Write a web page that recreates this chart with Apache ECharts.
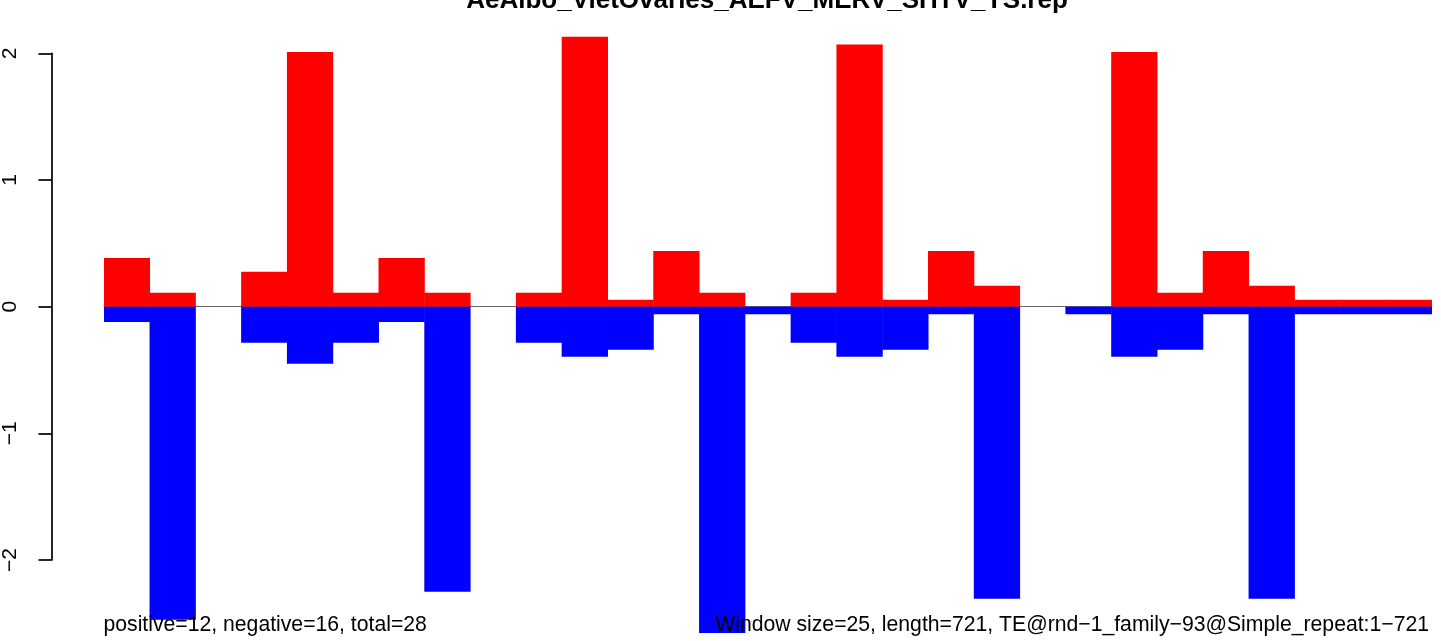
<!DOCTYPE html>
<html><head><meta charset="utf-8">
<script src="https://cdn.jsdelivr.net/npm/echarts@6/dist/echarts.min.js"></script>
<style>html,body{margin:0;padding:0;background:#fff}#c{width:1441px;height:641px}</style>
</head><body><div id="c"></div>
<script>
// Window start positions (bp), window size 25
const windowStarts = [0,25,50,75,100,125,150,175,200,225,250,275,300,325,350,375,400,425,450,475,500,525,550,575,600,625,650,675,700];
const positiveValues = [0.385,0.11,0,0.275,2.01,0.11,0.385,0.11,0,0.11,2.13,0.055,0.44,0.11,0,0.11,2.07,0.055,0.44,0.165,0,0,2.01,0.11,0.44,0.165,0.055,0.055,0.055];
const negativeValues = [-0.12,-2.47,0,-0.285,-0.45,-0.285,-0.12,-2.25,0,-0.285,-0.395,-0.34,-0.06,-2.575,-0.06,-0.285,-0.395,-0.34,-0.06,-2.305,0,-0.06,-0.395,-0.34,-0.06,-2.305,-0.06,-0.06,-0.06];
const yTicks = [-2,-1,0,1,2];
const titleText = 'AeAlbo_VietOvaries_AEFV_MERV_SHTV_YS.rep';
const leftNote = 'positive=12, negative=16, total=28';
const rightNote = 'Window size=25, length=721, TE@rnd\u22121_family\u221293@Simple_repeat:1\u2212721';

const FF = '"Liberation Sans", Arial, Helvetica, sans-serif';
const chart = echarts.init(document.getElementById('c'), null, {renderer: 'canvas'});
const fmt = v => (v < 0 ? '\u2212' + Math.abs(v) : String(v));

chart.setOption({
  animation: false,
  backgroundColor: '#ffffff',
  title: [
    {text: titleText, left: 767, textAlign: 'center', top: -12.5, padding: 0,
     textStyle: {fontSize: 26, fontWeight: 'bold', color: '#000', fontFamily: FF}},
    {text: leftNote, left: 103.5, textAlign: 'left', top: 615, padding: 0,
     textStyle: {fontSize: 21.2, fontWeight: 'normal', color: '#000', fontFamily: FF}},
    {text: rightNote, left: 1429, textAlign: 'right', top: 615, padding: 0,
     textStyle: {fontSize: 21.2, fontWeight: 'normal', color: '#000', fontFamily: FF}}
  ],
  grid: [
    {left: 104, right: 9, top: 27.96, bottom: 4.88, containLabel: false},
    {left: 50.5, top: 53.3, height: 506.7, width: 20, containLabel: false}
  ],
  xAxis: [
    {type: 'category', gridIndex: 0, data: windowStarts, boundaryGap: true,
     axisLine: {show: true, onZero: true, lineStyle: {color: '#666', width: 1}},
     axisTick: {show: false}, axisLabel: {show: false}, splitLine: {show: false}},
    {type: 'value', gridIndex: 1, show: false, min: 0, max: 1}
  ],
  yAxis: [
    {type: 'value', gridIndex: 0, min: -2.6, max: 2.2, show: false, splitLine: {show: false}},
    {type: 'value', gridIndex: 1, min: yTicks[0], max: yTicks[yTicks.length - 1], interval: 1,
     axisLine: {show: true, lineStyle: {color: '#000', width: 1.7}},
     axisTick: {show: true, length: 13, lineStyle: {color: '#000', width: 1.7}},
     axisLabel: {rotate: 90, margin: 30.5, fontSize: 21, color: '#000', fontFamily: FF, formatter: fmt},
     splitLine: {show: false}}
  ],
  series: [
    {name: 'positive', type: 'bar', xAxisIndex: 0, yAxisIndex: 0, data: positiveValues,
     barWidth: 46.3, barGap: '-100%', itemStyle: {color: '#ff0000'}},
    {name: 'negative', type: 'bar', xAxisIndex: 0, yAxisIndex: 0, data: negativeValues,
     barWidth: 46.3, barGap: '-100%', itemStyle: {color: '#0000ff'}}
  ]
});
</script>
</body></html>
